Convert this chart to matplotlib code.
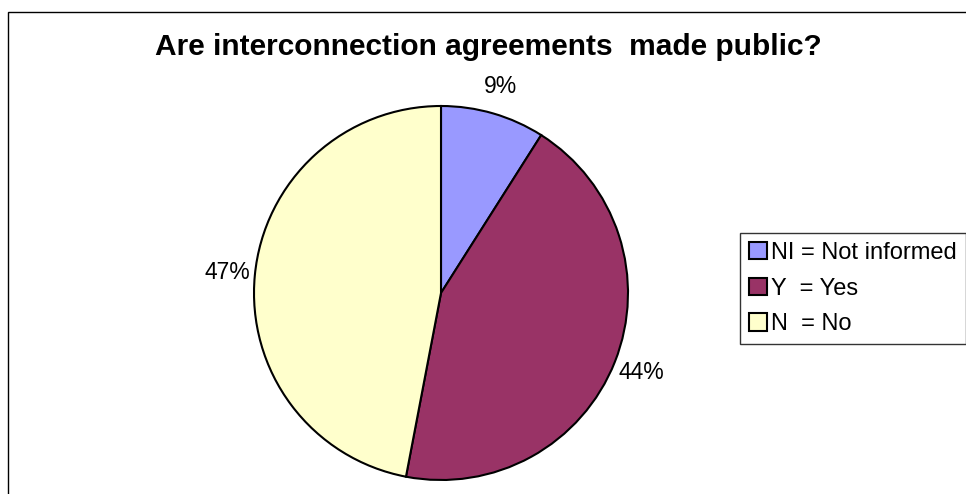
import matplotlib.pyplot as plt
from matplotlib.patches import Rectangle

plt.rcParams['font.family'] = ['Liberation Sans', 'DejaVu Sans']

# Data
labels = ["NI = Not informed", "Y  = Yes", "N  = No"]
shares = [9, 44, 47]
colors = ['#9999FF', '#993366', '#FFFFCC']
title = "Are interconnection agreements  made public?"

fig = plt.figure(figsize=(9.66, 4.94), dpi=100)

# outer chart border (right/bottom run off the image)
fig.patches.append(Rectangle((0.008, -0.05), 1.1, 0.976 + 0.05, transform=fig.transFigure,
                             fill=False, edgecolor='black', linewidth=1.0))

# pie axes: center ~ (441, 293) px, radius ~ 187 px
ax = fig.add_axes([254 / 966, (494 - 480) / 494, 374 / 966, 374 / 494])
wedges, texts, autotexts = ax.pie(
    shares, colors=colors, startangle=90, counterclock=False,
    autopct='%1.0f%%', pctdistance=1.15,
    wedgeprops=dict(edgecolor='black', linewidth=1.5),
    textprops=dict(fontsize=16.5, color='black'))
ax.set_xlim(-1, 1)
ax.set_ylim(-1, 1)
ax.set_aspect('equal')
for t in autotexts:
    t.set_clip_on(False)

fig.text(0.506, 1 - 47 / 494, title, ha='center', va='center',
         fontsize=21.5, fontweight='bold')

leg = fig.legend(wedges, labels, loc='upper left', bbox_to_anchor=(740 / 966, 1 - 233 / 494),
                 fontsize=17, frameon=True, fancybox=False, handlelength=0.75,
                 handleheight=0.75, handletextpad=0.2, borderpad=0.38, labelspacing=0.58,
                 borderaxespad=0)
leg.get_frame().set_edgecolor('black')
leg.get_frame().set_linewidth(1.0)

plt.savefig("out.png", dpi=100)
